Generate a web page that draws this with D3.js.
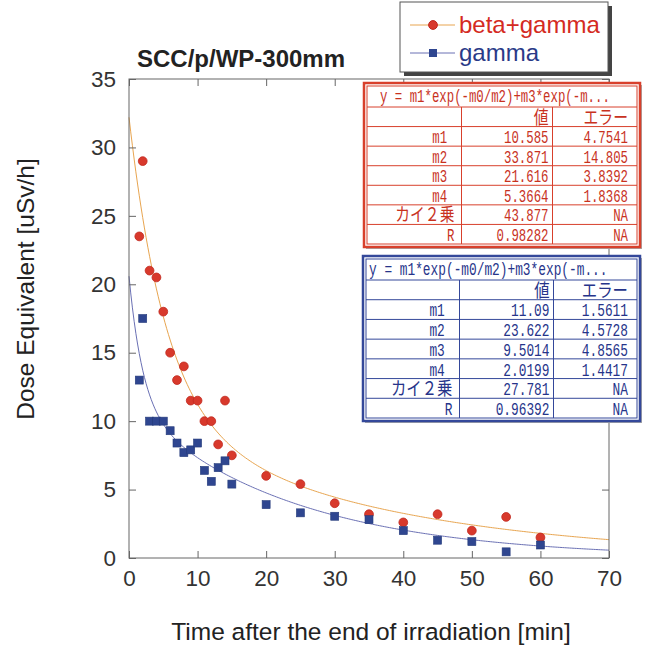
<!DOCTYPE html>
<html><head><meta charset="utf-8">
<script src="https://cdn.jsdelivr.net/npm/d3@7"></script>
<style>body{margin:0;background:#fff}svg text{white-space:pre}</style>
</head><body><svg id="c" width="646" height="648"></svg>
<script>
// ---- data ----
const titleText = "SCC/p/WP-300mm";
const xLabel = "Time after the end of irradiation [min]";
const yLabel = "Dose Equivalent [uSv/h]";
const xTicks = [0, 10, 20, 30, 40, 50, 60, 70];
const yTicks = [0, 5, 10, 15, 20, 25, 30, 35];
const seriesNames = ["beta+gamma", "gamma"];

const bgX = [1.5, 2, 3, 4, 5, 6, 7, 8, 9, 10, 11, 12, 13, 14, 15, 20, 25, 30, 35, 40, 45, 50, 55, 60];
const bgY = [23.5, 29, 21, 20.5, 18, 15, 13, 14, 11.5, 11.5, 10, 10, 8.3, 11.5, 7.5, 6, 5.4, 4, 3.2, 2.6, 3.2, 2.0, 3.0, 1.5];
const gX = [1.5, 2, 3, 4, 5, 6, 7, 8, 9, 10, 11, 12, 13, 14, 15, 20, 25, 30, 35, 40, 45, 50, 55, 60];
const gY = [13, 17.5, 10, 10, 10, 9.3, 8.4, 7.7, 7.9, 8.4, 6.4, 5.6, 6.6, 7.1, 5.4, 3.9, 3.3, 3.05, 2.8, 2.0, 1.3, 1.2, 0.45, 0.95];

const fitLabel = "y = m1*exp(-m0/m2)+m3*exp(-m...";
const colHeads = ["", "値", "エラー"];
const paramNames = ["m1 ", "m2 ", "m3 ", "m4 ", "カイ２乗", "R"];
const bgVals = ["10.585", "33.871", "21.616", "5.3664", "43.877", "0.98282"];
const bgErr = ["4.7541", "14.805", "3.8392", "1.8368", "NA", "NA"];
const gVals = ["11.09", "23.622", "9.5014", "2.0199", "27.781", "0.96392"];
const gErr = ["1.5611", "4.5728", "4.8565", "1.4417", "NA", "NA"];

// ---- layout ----
const svg = d3.select("#c");
svg.append("rect").attr("width", 646).attr("height", 648).attr("fill", "#fff");
const x = d3.scaleLinear().domain([0, 70]).range([129, 609]);
const y = d3.scaleLinear().domain([0, 35]).range([558, 79]);
const FONT = "Liberation Sans, Arial, sans-serif";
const axisCol = "#666";
const redC = "#d8392c", blueC = "#2f4690";

// fit curves from table parameters
function fitFn(vals) {
  const m1 = +vals[0], m2 = +vals[1], m3 = +vals[2], m4 = +vals[3];
  return t => m1 * Math.exp(-t / m2) + m3 * Math.exp(-t / m4);
}
const tGrid = d3.range(0, 70.01, 0.25);
const line = d3.line().x(d => x(d[0])).y(d => y(d[1]));
const fBG = fitFn(bgVals), fG = fitFn(gVals);
svg.append("path").attr("d", line(tGrid.map(t => [t, fBG(t)]))).attr("fill", "none").attr("stroke", "#e8a550").attr("stroke-width", 1);
svg.append("path").attr("d", line(tGrid.map(t => [t, fG(t)]))).attr("fill", "none").attr("stroke", "#6a70b4").attr("stroke-width", 1);

// frame and ticks
svg.append("rect").attr("x", x(0)).attr("y", y(35)).attr("width", x(70) - x(0)).attr("height", y(0) - y(35))
  .attr("fill", "none").attr("stroke", axisCol).attr("stroke-width", 1);
const gb = svg.append("g").attr("transform", `translate(0,${y(0)})`).call(d3.axisBottom(x).tickValues(xTicks).tickSize(-7).tickPadding(12).tickFormat(d3.format("d")));
const gt = svg.append("g").attr("transform", `translate(0,${y(35)})`).call(d3.axisTop(x).tickValues(xTicks).tickSize(-7).tickFormat(""));
const gl = svg.append("g").attr("transform", `translate(${x(0)},0)`).call(d3.axisLeft(y).tickValues(yTicks).tickSize(-7).tickPadding(13).tickFormat(d3.format("d")));
const gr = svg.append("g").attr("transform", `translate(${x(70)},0)`).call(d3.axisRight(y).tickValues(yTicks).tickSize(-7).tickFormat(""));
[gb, gt, gl, gr].forEach(g => {
  g.select(".domain").remove();
  g.selectAll("line").attr("stroke", axisCol);
  g.selectAll("text").attr("font-family", FONT).attr("font-size", 22.5).attr("fill", "#333");
});

// markers
svg.append("g").selectAll("circle").data(bgX.map((v, i) => [v, bgY[i]])).join("circle")
  .attr("cx", d => x(d[0])).attr("cy", d => y(d[1])).attr("r", 4.4)
  .attr("fill", redC).attr("stroke", "#c0281e").attr("stroke-width", 0.8);
svg.append("g").selectAll("rect").data(gX.map((v, i) => [v, gY[i]])).join("rect")
  .attr("x", d => x(d[0]) - 4).attr("y", d => y(d[1]) - 4).attr("width", 8).attr("height", 8)
  .attr("fill", blueC).attr("stroke", "#243a7a").attr("stroke-width", 0.6);

// title and axis labels
svg.append("text").attr("x", 137).attr("y", 67).text(titleText)
  .attr("font-family", FONT).attr("font-weight", "bold").attr("font-size", 24).attr("fill", "#222");
svg.append("text").attr("x", 371).attr("y", 640).attr("text-anchor", "middle").text(xLabel)
  .attr("font-family", FONT).attr("font-size", 24.5).attr("fill", "#222");
svg.append("text").attr("transform", "translate(34,289) rotate(-90)").attr("text-anchor", "middle").text(yLabel)
  .attr("font-family", FONT).attr("font-size", 24.5).attr("fill", "#222");

// legend
const lg = svg.append("g");
lg.append("rect").attr("x", 404).attr("y", 6).attr("width", 208).attr("height", 70).attr("fill", "#444");
lg.append("rect").attr("x", 400).attr("y", 2).attr("width", 208).attr("height", 70).attr("fill", "#fff").attr("stroke", "#555").attr("stroke-width", 1);
lg.append("line").attr("x1", 410).attr("x2", 455).attr("y1", 25).attr("y2", 25).attr("stroke", "#e8a550");
lg.append("circle").attr("cx", 433).attr("cy", 25).attr("r", 4.4).attr("fill", redC).attr("stroke", "#c0281e");
lg.append("text").attr("x", 459).attr("y", 33).text(seriesNames[0]).attr("font-family", FONT).attr("font-size", 24).attr("fill", "#d42a22");
lg.append("line").attr("x1", 410).attr("x2", 455).attr("y1", 53).attr("y2", 53).attr("stroke", "#6a70b4");
lg.append("rect").attr("x", 429).attr("y", 49).attr("width", 8).attr("height", 8).attr("fill", blueC);
lg.append("text").attr("x", 459).attr("y", 61).text(seriesNames[1]).attr("font-family", FONT).attr("font-size", 24).attr("fill", "#2a3a88");

// tables
function charW(s, cw) {
  let w = 0;
  for (const ch of s) w += (ch.charCodeAt(0) > 0x2000) ? cw * 2 : cw;
  return w;
}
function drawTable(cfg, vals, errs) {
  const g = svg.append("g");
  const { x0, y0, x1, y1, col1, col2, titleH, color, tcolor, cw, titleX } = cfg;
  g.append("rect").attr("x", x0 + 2).attr("y", y0 + 2).attr("width", x1 - x0).attr("height", y1 - y0).attr("fill", "#aaa");
  g.append("rect").attr("x", x0).attr("y", y0).attr("width", x1 - x0).attr("height", y1 - y0)
    .attr("fill", "#fff").attr("stroke", color).attr("stroke-width", 2.5);
  const ix0 = x0 + 3, iy0 = y0 + 3, ix1 = x1 - 3, iy1 = y1 - 3;
  g.append("rect").attr("x", ix0).attr("y", iy0).attr("width", ix1 - ix0).attr("height", iy1 - iy0)
    .attr("fill", "none").attr("stroke", color).attr("stroke-width", 1);
  const rowH = (iy1 - iy0 - titleH) / 7;
  const rowTop = i => iy0 + titleH + i * rowH;
  for (let i = 0; i < 7; i++) g.append("line").attr("x1", ix0).attr("x2", ix1).attr("y1", rowTop(i)).attr("y2", rowTop(i)).attr("stroke", color);
  [col1, col2].forEach(cx => g.append("line").attr("x1", cx).attr("x2", cx).attr("y1", rowTop(0)).attr("y2", iy1).attr("stroke", color));
  const txt = (s, xx, yy, anchor) => {
    const t = g.append("text").attr("x", 0).attr("y", 0).attr("text-anchor", anchor)
      .attr("font-family", "Liberation Mono, 'Noto Sans CJK JP', monospace").attr("font-size", 18.5).attr("fill", tcolor).text(s);
    const nat = t.node().getComputedTextLength();
    const sx = charW(s, cw) / nat;
    t.attr("transform", `translate(${xx},${yy}) scale(${sx},1)`);
  };
  txt(fitLabel, titleX, iy0 + titleH - 5, "start");
  const rows = [colHeads].concat(paramNames.map((p, i) => [p, vals[i], errs[i]]));
  rows.forEach((r, i) => {
    const by = rowTop(i) + rowH - 3;
    if (r[0]) txt(r[0], col1 - 7, by, "end");
    txt(r[1], col2 - 4, by, "end");
    txt(r[2], ix1 - 9, by, "end");
  });
}
drawTable({ x0: 364, y0: 83, x1: 640, y1: 247, col1: 461.5, col2: 552.5, titleH: 21, color: "#d8402c", tcolor: "#c8321e", cw: 7.42, titleX: 380 }, bgVals, bgErr);
drawTable({ x0: 363, y0: 256, x1: 640, y1: 421, col1: 459.5, col2: 553.5, titleH: 21, color: "#34489a", tcolor: "#26348a", cw: 7.7, titleX: 369 }, gVals, gErr);
</script></body></html>
